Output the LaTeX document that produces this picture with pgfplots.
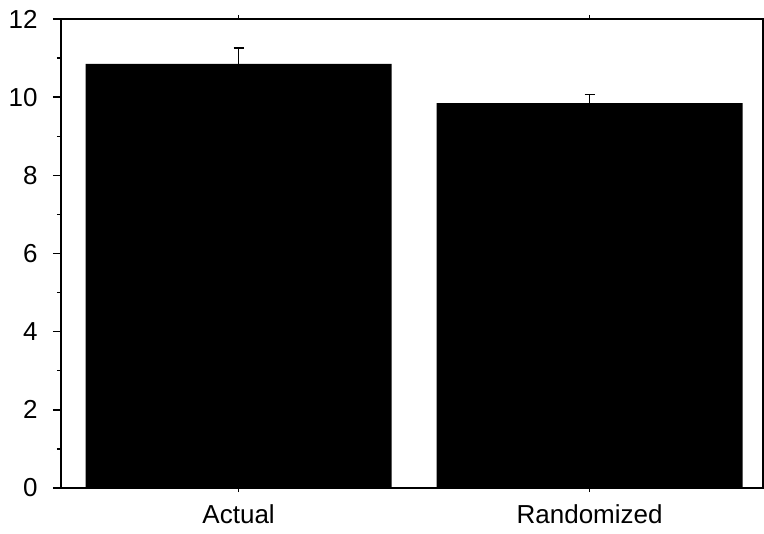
\documentclass[border=0pt]{standalone}
\usepackage{pgfplots}
\pgfplotsset{compat=1.18}
\usepackage{fontspec}
\setmainfont{Liberation Sans}
\begin{document}
\begin{tikzpicture}
\begin{axis}[
  scale only axis,
  width=702pt, height=469pt,
  xmin=-0.506, xmax=1.494,
  ymin=0, ymax=12,
  ytick={0,2,...,12},
  minor y tick num=1,
  xtick={0,1},
  xticklabels={Actual,Randomized},
  tick align=outside,
  ytick pos=left,
  xtick pos=both,
  xticklabel pos=bottom,
  major tick length=8pt,
  minor tick length=4pt,
  xtick style={/pgfplots/major tick length=4pt},
  axis line style={line width=1.6pt},
  every tick/.style={line width=1.4pt, black},
  tick label style={font=\fontsize{26}{30}\selectfont},
  /pgf/number format/assume math mode=true,
  yticklabel style={xshift=-12pt},
  xticklabel style={yshift=-5pt},
]
\addplot[ybar, bar width=0.872, fill=black, draw=none,
  error bars/.cd, y dir=plus, y explicit,
  error mark options={rotate=90, mark size=5pt, line width=1.6pt},
  error bar style={line width=1.6pt}]
  coordinates {(0,10.85) +- (0,0.41) (1,9.85) +- (0,0.22)};
\end{axis}
\path (current axis.south west) ++(-61pt,-45pt) coordinate (bbA);
\path (current axis.north east) ++(1pt,19pt) coordinate (bbB);
\useasboundingbox (bbA) rectangle (bbB);
\end{tikzpicture}
\end{document}
